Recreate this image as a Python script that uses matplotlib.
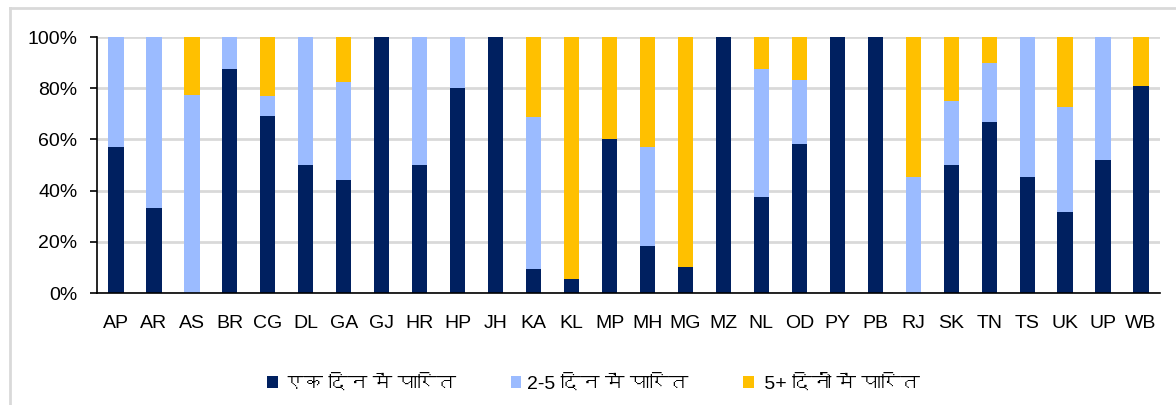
import matplotlib
matplotlib.use("Agg")
import matplotlib.pyplot as plt
from matplotlib import font_manager
from matplotlib.ft2font import FT2Font
from matplotlib.lines import Line2D
import numpy as np

states = ["AP", "AR", "AS", "BR", "CG", "DL", "GA", "GJ", "HR", "HP", "JH", "KA", "KL", "MP",
          "MH", "MG", "MZ", "NL", "OD", "PY", "PB", "RJ", "SK", "TN", "TS", "UK", "UP", "WB"]
one_day = [57.0, 33.3, 0.0, 87.5, 69.2, 50.0, 44.0, 100.0, 50.0, 80.0, 100.0, 9.2, 5.6, 60.0,
           18.2, 10.0, 100.0, 37.5, 58.3, 100.0, 100.0, 0.0, 50.0, 66.7, 45.5, 31.8, 52.0, 81.0]
two_five = [43.0, 66.7, 77.3, 12.5, 7.7, 50.0, 38.3, 0.0, 50.0, 20.0, 0.0, 59.6, 0.0, 0.0,
            38.8, 0.0, 0.0, 50.0, 25.0, 0.0, 0.0, 45.5, 25.0, 23.3, 54.5, 40.9, 48.0, 0.0]
five_plus = [0.0, 0.0, 22.7, 0.0, 23.1, 0.0, 17.7, 0.0, 0.0, 0.0, 0.0, 31.2, 94.4, 40.0,
             43.0, 90.0, 0.0, 12.5, 16.7, 0.0, 0.0, 54.5, 25.0, 10.0, 0.0, 27.3, 0.0, 19.0]
labels = ["एक दिन में पारित", "2-5 दिन में पारित", " 5+ दिनों में पारित"]
colors = ["#002060", "#9BBBFF", "#FFC000"]
yticks = [0, 20, 40, 60, 80, 100]


def find_font(ch):
    for f in font_manager.fontManager.ttflist:
        try:
            if ord(ch) in FT2Font(f.fname).get_charmap():
                return f.name
        except Exception:
            pass
    return None


deva = find_font("क")
fams = ["Liberation Sans"] + ([deva] if deva else []) + ["DejaVu Sans"]
plt.rcParams["font.family"] = fams
plt.rcParams["font.size"] = 14

fig = plt.figure(figsize=(11.76, 4.05), dpi=100)
ax = fig.add_axes([97 / 1176, 1 - 293 / 405, 1063 / 1176, 256 / 405])

x = np.arange(len(states))
bottom = np.zeros(len(states))
handles = []
for vals, c, lab in zip([one_day, two_five, five_plus], colors, labels):
    v = np.array(vals)
    # zero-height segments are left out so no hairline shows at the base
    h = np.where(v > 0, v, np.nan)
    b = ax.bar(x, h, 0.4, bottom=bottom, color=c, label=lab, linewidth=0, zorder=3)
    bottom += v
    handles.append(b)

ax.set_xlim(-0.5, len(states) - 0.5)
ax.set_ylim(0, 100)
ax.set_yticks(yticks)
ax.set_yticklabels([f"{t}%" for t in yticks])
ax.set_xticks(x)
ax.set_xticklabels(states)
ax.tick_params(axis="x", length=0, pad=16)
ax.tick_params(axis="y", length=5, width=1.2, pad=9, direction="out")
ax.grid(axis="y", color="#D9D9D9", linewidth=2, zorder=0)
for s in ["top", "right"]:
    ax.spines[s].set_visible(False)
for s in ["left", "bottom"]:
    ax.spines[s].set_linewidth(1.2)
    ax.spines[s].set_zorder(4)

fig.legend(handles=handles, labels=labels, loc="center", bbox_to_anchor=(0.505, 0.052),
           ncol=3, frameon=False, handlelength=0.55, handleheight=0.55,
           handletextpad=0.3, columnspacing=2.8, fontsize=14)

# light grey frame at top and left of the picture
fig.add_artist(Line2D([10 / 1176, 1.0], [1 - 8 / 405, 1 - 8 / 405], color="#D9D9D9", lw=2))
fig.add_artist(Line2D([10 / 1176, 10 / 1176], [0, 1 - 8 / 405], color="#D9D9D9", lw=2))

fig.savefig("out.png", dpi=100)
